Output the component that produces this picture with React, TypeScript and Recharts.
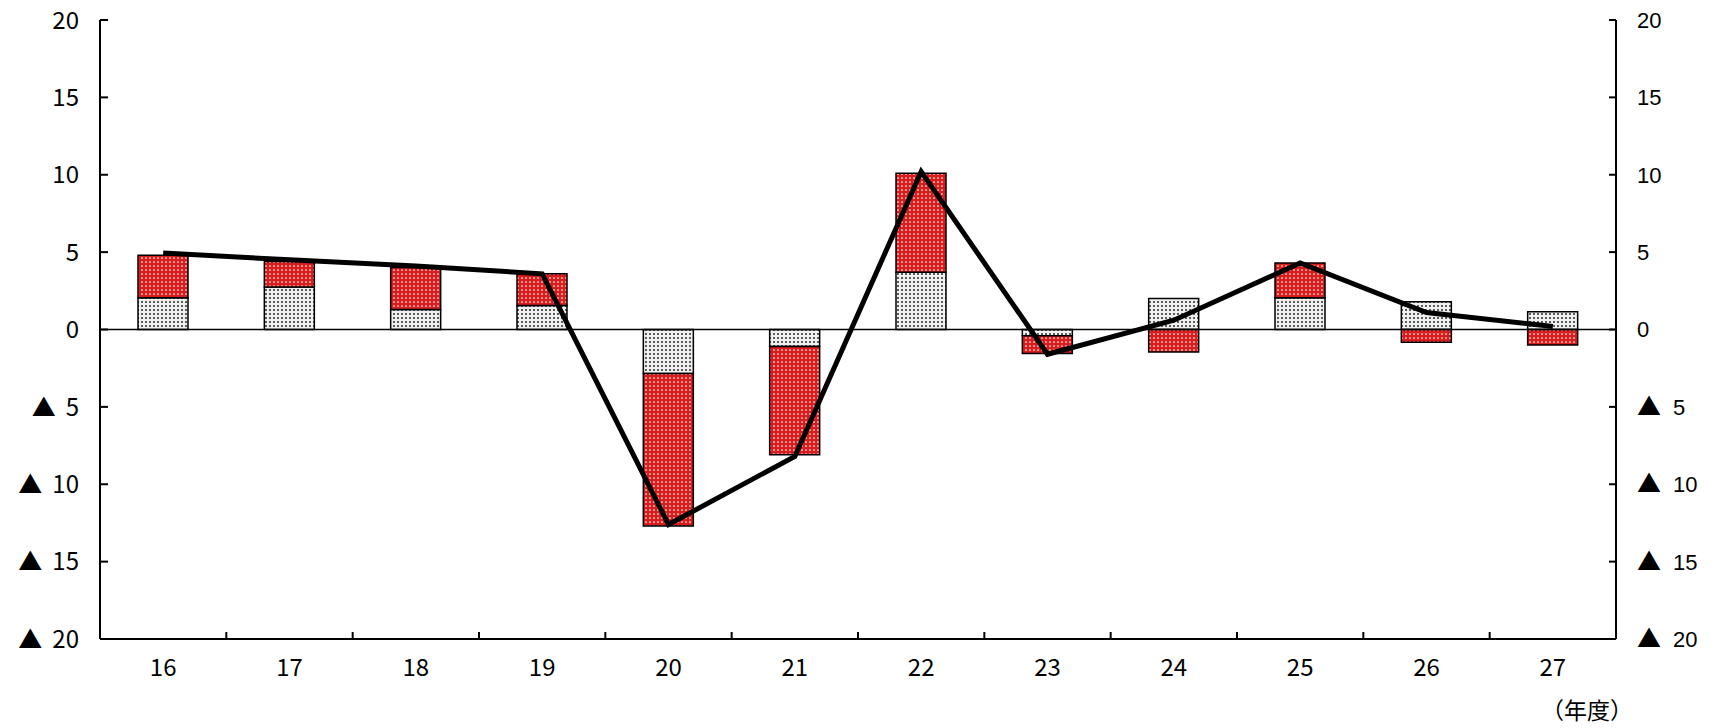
import { ComposedChart, Bar, Line, XAxis, YAxis, ReferenceLine } from "recharts";

const years = ["16", "17", "18", "19", "20", "21", "22", "23", "24", "25", "26", "27"];
const dottedPart = [2.05, 2.75, 1.3, 1.55, -2.85, -1.1, 3.7, -0.4, 2.0, 2.05, 1.8, 1.15];
const redPart = [2.75, 1.65, 2.7, 2.05, -9.85, -7.0, 6.4, -1.15, -1.45, 2.25, -0.82, -1.0];
const totalLine = [4.95, 4.5, 4.1, 3.6, -12.6, -8.2, 10.2, -1.6, 0.6, 4.3, 1.1, 0.2];
const yTicks = [-20, -15, -10, -5, 0, 5, 10, 15, 20];

const W = 1719;
const H = 728;
const LEFT_W = 100;
const RIGHT_W = 103;
const BAND = (W - LEFT_W - RIGHT_W) / years.length;

const data = years.map((year, i) => ({
  year,
  dotted: dottedPart[i],
  red: redPart[i],
  total: totalLine[i],
}));

const jpFont = "'Noto Sans CJK JP', sans-serif";

function LeftTick({ x, y, payload }: any) {
  const v = payload.value;
  return (
    <g>
      <line x1={x} x2={x + 8} y1={y} y2={y} stroke="#000" strokeWidth={2} />
      <text x={x - 21} y={y} dy="0.36em" textAnchor="end" fontSize={24} fontFamily={jpFont} fill="#000">
        {v < 0 ? (
          <>
            ▲<tspan dx={10}>{-v}</tspan>
          </>
        ) : (
          v
        )}
      </text>
    </g>
  );
}

function RightTick({ x, y, payload }: any) {
  const v = payload.value;
  return (
    <g>
      <line x1={x - 7} x2={x} y1={y} y2={y} stroke="#000" strokeWidth={2} />
      <text x={x + 21} y={y} dy="0.36em" textAnchor="start" fontSize={22} fontFamily="'Liberation Sans', Arial, sans-serif" fill="#000">
        {v < 0 ? (
          <>
            <tspan fontFamily={jpFont} fontSize={24}>▲</tspan>
            <tspan dx={12}>{-v}</tspan>
          </>
        ) : (
          v
        )}
      </text>
    </g>
  );
}

function BottomTick({ x, y, payload }: any) {
  return (
    <g>
      <line x1={x + BAND / 2} x2={x + BAND / 2} y1={y} y2={y - 7} stroke="#000" strokeWidth={2} />
      <text x={x} y={y + 28} dy="0.36em" textAnchor="middle" fontSize={24} fontFamily={jpFont} fill="#000">
        {payload.value}
      </text>
    </g>
  );
}

export default function App() {
  return (
    <div style={{ position: "absolute", left: 0, top: 0, width: W, height: H, background: "#fff", overflow: "hidden" }}>
      <svg width={0} height={0} style={{ position: "absolute" }}>
        <defs>
          <pattern id="redDots" width={4} height={4} patternUnits="userSpaceOnUse">
            <rect width={4} height={4} fill="#d91c1c" />
            <circle cx={2} cy={2} r={0.85} fill="#ffffff" />
          </pattern>
          <pattern id="greyDots" width={4} height={4} patternUnits="userSpaceOnUse">
            <rect width={4} height={4} fill="#f0f0f0" />
            <circle cx={2} cy={2} r={1} fill="#2a2a2a" />
          </pattern>
        </defs>
      </svg>
      <ComposedChart
        width={W}
        height={H}
        data={data}
        stackOffset="sign"
        margin={{ top: 20, right: 0, bottom: 0, left: 0 }}
      >
        <XAxis
          dataKey="year"
          height={89}
          axisLine={{ stroke: "#000", strokeWidth: 2 }}
          tickLine={false}
          tickSize={0}
          tickMargin={0}
          interval={0}
          tick={<BottomTick />}
        />
        <YAxis
          yAxisId="left"
          orientation="left"
          width={LEFT_W}
          domain={[-20, 20]}
          ticks={yTicks}
          interval={0}
          axisLine={{ stroke: "#000", strokeWidth: 2 }}
          tickLine={false}
          tickSize={0}
          tickMargin={0}
          tick={<LeftTick />}
        />
        <YAxis
          yAxisId="right"
          orientation="right"
          width={RIGHT_W}
          domain={[-20, 20]}
          ticks={yTicks}
          interval={0}
          axisLine={{ stroke: "#000", strokeWidth: 2 }}
          tickLine={false}
          tickSize={0}
          tickMargin={0}
          tick={<RightTick />}
        />
        <ReferenceLine yAxisId="left" y={0} stroke="#000" strokeWidth={1.5} />
        <Bar
          yAxisId="left"
          dataKey="dotted"
          stackId="a"
          barSize={50}
          fill="url(#greyDots)"
          stroke="#000"
          strokeWidth={1.5}
          isAnimationActive={false}
        />
        <Bar
          yAxisId="left"
          dataKey="red"
          stackId="a"
          barSize={50}
          fill="url(#redDots)"
          stroke="#000"
          strokeWidth={1.5}
          isAnimationActive={false}
        />
        <Line
          yAxisId="right"
          dataKey="total"
          type="linear"
          stroke="#000"
          strokeWidth={5}
          dot={false}
          activeDot={false}
          isAnimationActive={false}
        />
      </ComposedChart>
      <div
        style={{
          position: "absolute",
          left: 1541,
          top: 698,
          fontSize: 23,
          lineHeight: "23px",
          fontFamily: jpFont,
          color: "#000",
          whiteSpace: "nowrap",
        }}
      >
        （年度）
      </div>
    </div>
  );
}
